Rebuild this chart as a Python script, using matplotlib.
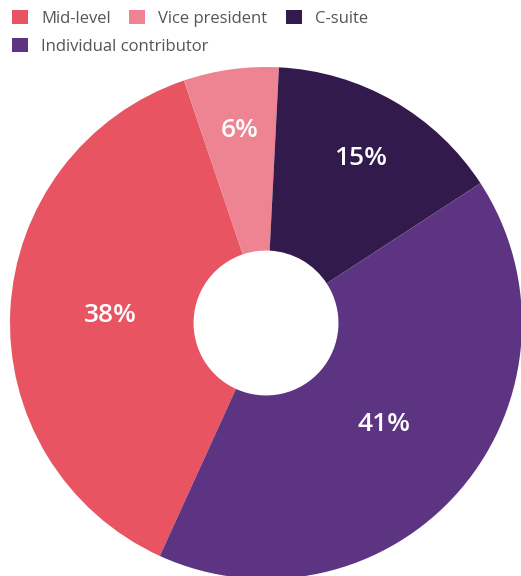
import numpy as np
import matplotlib
matplotlib.use('Agg')
import matplotlib.pyplot as plt
from matplotlib.patches import Patch

plt.rcParams['font.family'] = ['Open Sans', 'DejaVu Sans']

# data
labels = ['Mid-level', 'Vice president', 'C-suite', 'Individual contributor']
values = [38, 6, 15, 41]
colors = ['#E85462', '#EE8391', '#321A4D', '#5D3481']

W, H = 521, 576
fig = plt.figure(figsize=(W / 100, H / 100), dpi=100)

# pie centre ~ (266, 323) px, radius ~256 px
cx, cy, r = 266, 323, 256
ax = fig.add_axes([(cx - r) / W, (H - cy - r) / H, 2 * r / W, 2 * r / H])
wedges, _ = ax.pie(values, colors=colors, startangle=245.5, counterclock=False,
                   radius=1, wedgeprops=dict(width=0.717, linewidth=0))
ax.set_xlim(-1, 1)
ax.set_ylim(-1, 1)
ax.set_aspect('equal')
ax.axis('off')

# label radius per slice (small slices sit further out)
lab_r = [0.61, 0.76, 0.74, 0.61]
for w, v, lr in zip(wedges, values, lab_r):
    ang = np.deg2rad((w.theta1 + w.theta2) / 2)
    ax.text(lr * np.cos(ang), lr * np.sin(ang), f'{v}%', color='white',
            fontsize=19, fontweight='semibold', ha='center', va='center')

# legend, flows onto two rows
handles = [Patch(facecolor=c, edgecolor='none') for c in colors]
kw = dict(frameon=False, fontsize=12, handlelength=0.95, handleheight=0.95,
          handletextpad=0.8, columnspacing=1.1, borderpad=0, borderaxespad=0,
          loc='upper left', labelcolor='#555555')
leg1 = fig.legend(handles[:3], labels[:3], ncol=3,
                  bbox_to_anchor=(12 / W, 1 - 10 / H), **kw)
leg2 = fig.legend(handles[3:], labels[3:], ncol=1,
                  bbox_to_anchor=(12 / W, 1 - 38 / H), **kw)

fig.savefig('out.png', dpi=100)
